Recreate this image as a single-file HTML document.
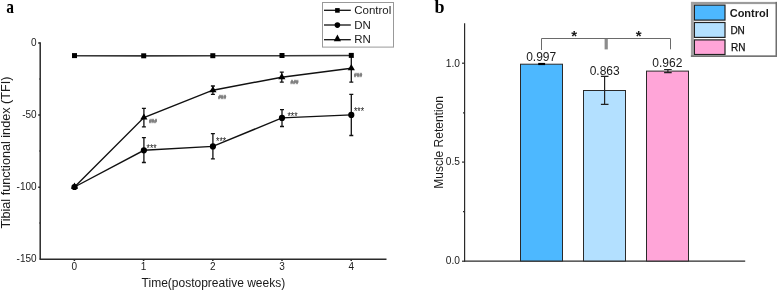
<!DOCTYPE html>
<html><head><meta charset="utf-8">
<style>
html,body{margin:0;padding:0;background:#fff;}
body{width:777px;height:290px;overflow:hidden;}
svg{display:block;will-change:transform;}
text{font-family:"Liberation Sans",sans-serif;fill:#1a1a1a;}
.serif{font-family:"Liberation Serif",serif;font-weight:bold;fill:#000;}
</style></head><body>
<svg width="777" height="290" viewBox="0 0 777 290">
<!-- ===== Chart a ===== -->
<text class="serif" transform="translate(6.3,12.8) scale(0.86,1)" font-size="18">a</text>

<!-- axes -->
<g stroke="#2a2a2a" stroke-width="1.5" fill="none">
  <line x1="40.2" y1="42.3" x2="40.2" y2="259.3"/>
  <line x1="39.5" y1="259.3" x2="386.5" y2="259.3"/>
  <!-- y ticks -->
  <line x1="38.2" y1="42.9" x2="40" y2="42.9"/>
  <line x1="38.2" y1="115" x2="40" y2="115"/>
  <line x1="38.2" y1="187.2" x2="40" y2="187.2"/>
  <line x1="39.2" y1="79" x2="40" y2="79" stroke-width="1"/>
  <line x1="39.2" y1="151" x2="40" y2="151" stroke-width="1"/>
  <line x1="39.2" y1="223" x2="40" y2="223" stroke-width="1"/>
  <!-- x ticks -->
  <line x1="74.4" y1="259" x2="74.4" y2="261"/>
  <line x1="143.6" y1="259" x2="143.6" y2="261"/>
  <line x1="212.8" y1="259" x2="212.8" y2="261"/>
  <line x1="282" y1="259" x2="282" y2="261"/>
  <line x1="351.2" y1="259" x2="351.2" y2="261"/>
</g>
<g font-size="10" text-anchor="end">
  <text x="36.6" y="45.8">0</text>
  <text x="36.6" y="117.9">-50</text>
  <text x="36.6" y="190.1">-100</text>
  <text x="36.6" y="262.4">-150</text>
</g>
<g font-size="10" text-anchor="middle">
  <text x="74.4" y="270">0</text>
  <text x="143.6" y="270">1</text>
  <text x="212.8" y="270">2</text>
  <text x="282" y="270">3</text>
  <text x="351.2" y="270">4</text>
</g>
<text x="213.4" y="287" font-size="12" text-anchor="middle">Time(postopreative weeks)</text>
<text transform="translate(9.6,152.6) rotate(-90)" font-size="12.65" text-anchor="middle">Tibial functional index (TFI)</text>

<!-- data lines -->
<g stroke="#111" stroke-width="1.4" fill="none">
  <polyline points="74.5,55.8 143.7,55.9 212.8,55.8 282,55.7 351.3,55.5" stroke="#383838" stroke-width="1.6"/>
  <polyline points="74.5,187 143.9,150.3 212.9,146.4 282,117.9 351.3,114.9"/>
  <polyline points="74.5,187 143.9,117.6 212.9,90.2 281.8,77.2 351.3,68.3"/>
</g>
<!-- error bars -->
<g stroke="#111" stroke-width="1.3" fill="none">
  <!-- DN -->
  <path d="M143.9,137.7V162.5M141.9,137.7H145.9M141.9,162.5H145.9"/>
  <path d="M212.9,133.6V158.8M210.9,133.6H214.9M210.9,158.8H214.9"/>
  <path d="M282,109.7V126.5M280,109.7H284M280,126.5H284"/>
  <path d="M351.3,94.3V135.5M349.3,94.3H353.3M349.3,135.5H353.3"/>
  <!-- RN -->
  <path d="M143.9,108.4V126.8M141.9,108.4H145.9M141.9,126.8H145.9"/>
  <path d="M212.9,86V94.3M210.9,86H214.9M210.9,94.3H214.9"/>
  <path d="M281.8,72.1V82.1M279.8,72.1H283.8M279.8,82.1H283.8"/>
  <path d="M351.3,55V82.1M349.3,82.1H353.3"/>
</g>
<!-- markers -->
<g fill="#000">
  <rect x="72" y="53.1" width="5" height="5"/>
  <rect x="141.2" y="53.3" width="5" height="5"/>
  <rect x="210.3" y="53.2" width="5" height="5"/>
  <rect x="279.5" y="53" width="5" height="5"/>
  <rect x="348.8" y="52.9" width="5" height="5"/>
  <circle cx="74.5" cy="187" r="3.1"/>
  <circle cx="143.9" cy="150.3" r="3.1"/>
  <circle cx="212.9" cy="146.4" r="3.1"/>
  <circle cx="282" cy="117.9" r="3.1"/>
  <circle cx="351.3" cy="114.9" r="3.1"/>
  <path d="M74.5,182.6L78.1,188.8H70.9Z"/>
  <path d="M143.9,113.4L147.5,119.6H140.3Z"/>
  <path d="M212.9,86.0L216.5,92.2H209.3Z"/>
  <path d="M281.8,73.0L285.4,79.2H278.2Z"/>
  <path d="M351.3,64.1L354.9,70.3H347.7Z"/>
</g>
<!-- significance marks -->
<g font-size="8.6" fill="#222">
  <text transform="translate(146.6,151.5) scale(1,1.25)">***</text>
  <text transform="translate(216.1,144.8) scale(1,1.25)">***</text>
  <text transform="translate(287.5,119.8) scale(1,1.25)">***</text>
  <text transform="translate(354,115.2) scale(1,1.25)">***</text>
</g>
<g font-size="4.8" fill="#4a4a4a" font-weight="bold" stroke="#888" stroke-width="0.3">
  <text x="148.9" y="123.4">###</text>
  <text x="218.2" y="99.2">###</text>
  <text x="290.5" y="83.8">###</text>
  <text x="354.1" y="77">###</text>
</g>

<!-- legend a -->
<rect x="322.5" y="2.5" width="71" height="44.6" fill="#fff" stroke="#999" stroke-width="1"/>
<g stroke="#111" stroke-width="1.3">
  <line x1="324" y1="10.3" x2="350.8" y2="10.3"/>
  <line x1="324" y1="25" x2="350.8" y2="25"/>
  <line x1="324" y1="39.7" x2="350.8" y2="39.7"/>
</g>
<rect x="335.1" y="8.1" width="4.6" height="4.6" fill="#000"/>
<circle cx="337.4" cy="25.1" r="2.8" fill="#000"/>
<path d="M337.4,34.6L341,41.2H333.8Z" fill="#000"/>
<g font-size="11.5">
  <text x="354.2" y="13.9">Control</text>
  <text x="354.2" y="28.6">DN</text>
  <text x="354.2" y="43.3">RN</text>
</g>

<!-- ===== Chart b ===== -->
<text class="serif" x="434.5" y="12.8" font-size="18">b</text>
<g stroke="#2a2a2a" stroke-width="1.2" fill="none">
  <line x1="464.6" y1="23.3" x2="464.6" y2="261.8"/>
  <line x1="464" y1="261.2" x2="745.2" y2="261.2"/>
  <line x1="462" y1="63.2" x2="464.3" y2="63.2"/>
  <line x1="462" y1="162.1" x2="464.3" y2="162.1"/>
  <line x1="462" y1="261.2" x2="464.3" y2="261.2"/>
  <line x1="463" y1="112.8" x2="464.3" y2="112.8"/>
  <line x1="463" y1="211.6" x2="464.3" y2="211.6"/>
</g>
<g font-size="10.2" text-anchor="end">
  <text x="460" y="66.6">1.0</text>
  <text x="460" y="165.3">0.5</text>
  <text x="460" y="263.9">0.0</text>
</g>
<text transform="translate(442.9,142.4) rotate(-90)" font-size="12" text-anchor="middle">Muscle Retention</text>

<!-- bars -->
<g stroke="#2a2a2a" stroke-width="1">
  <rect x="520.5" y="64.2" width="42" height="196.8" fill="#4db8ff"/>
  <rect x="583.5" y="90.5" width="42" height="170.5" fill="#b3e0ff"/>
  <rect x="646.5" y="71.1" width="42" height="189.9" fill="#ffa5d8"/>
</g>
<!-- error bars b -->
<g stroke="#222" stroke-width="1.2" fill="none">
  <path d="M538.2,64H545.1" stroke-width="2.2" stroke="#000"/>
  <path d="M604.6,76.3V104.3M600.9,76.3H608.5M600.9,104.3H608.5"/>
  <path d="M667.9,69.5V72.6M664.1,69.5H671.7M664.1,72.6H671.7"/>
</g>
<g font-size="12" text-anchor="middle">
  <text x="541.2" y="60.7">0.997</text>
  <text x="604.7" y="74.5">0.863</text>
  <text x="667.3" y="67.3">0.962</text>
</g>
<!-- bracket -->
<g stroke="#6a6a6a" stroke-width="1" fill="none">
  <path d="M541.5,50V38.5H670.5V49.3"/>
</g>
<rect x="604.6" y="39" width="3.2" height="10.4" fill="#8c8c8c"/>
<g font-size="15" text-anchor="middle" fill="#111" font-weight="bold">
  <text x="574.1" y="40.5">*</text>
  <text x="638.7" y="40.5">*</text>
</g>

<!-- legend b -->
<rect x="691" y="2" width="86" height="55" fill="#fff"/>
<rect x="691" y="1.9" width="86" height="2.2" fill="#9c9c9c"/>
<rect x="690.9" y="1.9" width="2.8" height="55" fill="#a2a2a2"/>
<rect x="775.5" y="1.9" width="1.5" height="55" fill="#6e6e6e"/>
<rect x="690.9" y="55.3" width="86.1" height="1.7" fill="#757575"/>
<g stroke="#222" stroke-width="1.2">
  <rect x="694.4" y="5.1" width="30.6" height="15" fill="#4db8ff"/>
  <rect x="694.4" y="22.5" width="30.6" height="14.9" fill="#b3e0ff"/>
  <rect x="694.4" y="39.9" width="30.6" height="14.6" fill="#ffa5d8"/>
</g>
<g font-size="11">
  <text x="729.7" y="16.6" font-weight="bold">Control</text>
  <text x="730.4" y="33.7" font-size="10" stroke="#000" stroke-width="0.25">DN</text>
  <text x="731" y="50.9" font-size="10" stroke="#000" stroke-width="0.25">RN</text>
</g>
</svg>
</body></html>
